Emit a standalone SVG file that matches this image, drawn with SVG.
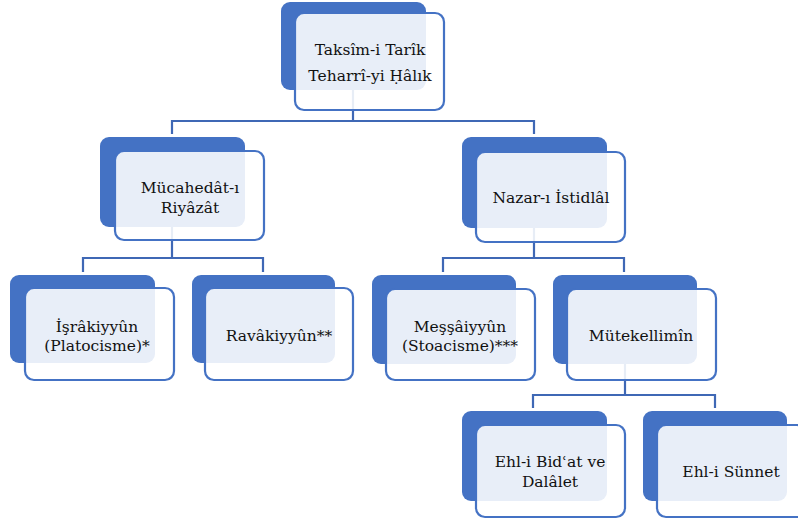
<svg xmlns="http://www.w3.org/2000/svg" width="798" height="524" viewBox="0 0 798 524">
<style>
.bg{fill:#4472C4}
.fr{fill:#ffffff;fill-opacity:0.88;stroke:#4472C4;stroke-width:2.2}
.cn{fill:none;stroke:#3F68B5;stroke-width:2.2}
.t{font-family:"DejaVu Serif","Liberation Serif",serif;font-size:15.5px;fill:#111111;text-anchor:middle}
</style>
<rect width="798" height="524" fill="#ffffff"/>
<g id="connectors">
<path class="cn" d="M353 90 V121 H172 V134 M353 121 H534 V134"/>
<path class="cn" d="M172 227 V258 H83 V272 M172 258 H263 V272"/>
<path class="cn" d="M534 228 V258 H443 V272 M534 258 H624 V272"/>
<path class="cn" d="M625 364 V395 H533 V408 M625 395 H715 V408"/>
</g>
<g id="n-root">
<rect class="bg" x="281" y="2" width="145" height="88" rx="9"/>
<rect class="fr" x="295" y="13" width="149" height="97" rx="9"/>
<text class="t" x="370" y="55">Taksîm-i Tarîk</text>
<text class="t" x="370" y="81">Teharrî-yi Ḥâlık</text>
</g>
<g id="n-mucahedat">
<rect class="bg" x="100" y="137" width="145" height="90" rx="9"/>
<rect class="fr" x="115" y="151" width="149" height="89" rx="9"/>
<text class="t" x="190" y="193">Mücahedât-ı</text>
<text class="t" x="190" y="213">Riyâzât</text>
</g>
<g id="n-nazar">
<rect class="bg" x="462" y="137" width="145" height="91" rx="9"/>
<rect class="fr" x="476" y="152" width="149" height="90" rx="9"/>
<text class="t" x="551" y="203">Nazar-ı İstidlâl</text>
</g>
<g id="n-israkiyyun">
<rect class="bg" x="10" y="275" width="145" height="88" rx="9"/>
<rect class="fr" x="25" y="288" width="149" height="92" rx="9"/>
<text class="t" x="97" y="332">İşrâkiyyûn</text>
<text class="t" x="97" y="351">(Platocisme)*</text>
</g>
<g id="n-ravakiyyun">
<rect class="bg" x="192" y="275" width="143" height="88" rx="9"/>
<rect class="fr" x="205" y="288" width="148" height="92" rx="9"/>
<text class="t" x="279" y="341">Ravâkiyyûn**</text>
</g>
<g id="n-messaiyyun">
<rect class="bg" x="372" y="275" width="144" height="89" rx="9"/>
<rect class="fr" x="386" y="289" width="149" height="91" rx="9"/>
<text class="t" x="460" y="332">Meşşâiyyûn</text>
<text class="t" x="460" y="351">(Stoacisme)***</text>
</g>
<g id="n-mutekellimin">
<rect class="bg" x="553" y="275" width="144" height="89" rx="9"/>
<rect class="fr" x="567" y="289" width="149" height="91" rx="9"/>
<text class="t" x="641" y="341">Mütekellimîn</text>
</g>
<g id="n-bidat">
<rect class="bg" x="462" y="411" width="145" height="90" rx="9"/>
<rect class="fr" x="476" y="425" width="149" height="92" rx="9"/>
<text class="t" x="550" y="467">Ehl-i Bidʿat ve</text>
<text class="t" x="550" y="487">Dalâlet</text>
</g>
<g id="n-sunnet">
<rect class="bg" x="643" y="411" width="144" height="90" rx="9"/>
<rect class="fr" x="657" y="425" width="149" height="92" rx="9"/>
<text class="t" x="731" y="477">Ehl-i Sünnet</text>
</g>
</svg>
